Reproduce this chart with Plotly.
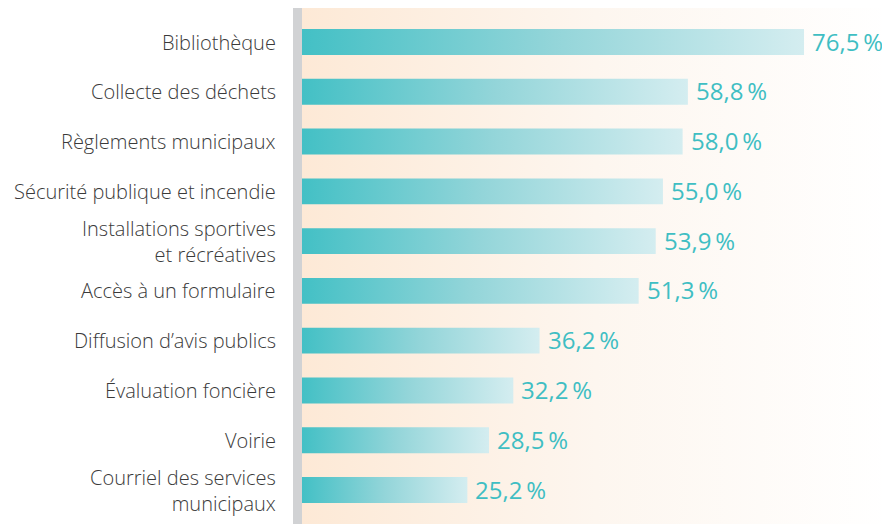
import plotly.graph_objects as go

categories = [
    "Bibliothèque",
    "Collecte des déchets",
    "Règlements municipaux",
    "Sécurité publique et incendie",
    "Installations sportives<br>et récréatives",
    "Accès à un formulaire",
    "Diffusion d’avis publics",
    "Évaluation foncière",
    "Voirie",
    "Courriel des services<br>municipaux",
]
values = [76.5, 58.8, 58.0, 55.0, 53.9, 51.3, 36.2, 32.2, 28.5, 25.2]
value_labels = [f"{v:.1f}".replace(".", ",") + "\u2009%" for v in values]

X_MAX = 89.6
Y_LO, Y_HI = -0.683, 9.683
HALF = 0.26
LABEL_FONT = dict(family="Open Sans", size=20, color="#3A3A3A", weight=300)

fig = go.Figure()

# background gradient panel
fig.add_trace(go.Scatter(
    x=[0, X_MAX, X_MAX, 0, 0], y=[Y_LO, Y_LO, Y_HI, Y_HI, Y_LO],
    mode="lines", line=dict(width=0), fill="toself",
    fillgradient=dict(type="horizontal",
                      colorscale=[[0, "#FDE9D6"], [0.5, "#FDF6EF"], [1, "#FFFFFF"]]),
    hoverinfo="skip", showlegend=False,
))

# gradient bars
for i, v in enumerate(values):
    fig.add_trace(go.Scatter(
        x=[0, v, v, 0, 0], y=[i - HALF, i - HALF, i + HALF, i + HALF, i - HALF],
        mode="lines", line=dict(width=0), fill="toself",
        fillgradient=dict(type="horizontal",
                          colorscale=[[0, "#43C0C5"], [0.5, "#93D5D9"], [1, "#D4EDF0"]]),
        hoverinfo="skip", showlegend=False,
    ))

# value labels
for i, (v, t) in enumerate(zip(values, value_labels)):
    fig.add_annotation(
        x=v, y=i, text=t, showarrow=False, xanchor="left", yanchor="middle",
        xshift=6, yshift=1,
        font=dict(family="Open Sans", size=24, color="#3FBEC3"),
    )

# category labels
for i, cat in enumerate(categories):
    fig.add_annotation(
        x=0, xref="paper", y=i, yref="y", text=cat, showarrow=False,
        xanchor="right", yanchor="middle", align="right", xshift=-24,
        font=LABEL_FONT,
    )

# gray strip at left of plot area
fig.add_shape(type="rect", xref="paper", yref="paper",
              x0=-9 / 588, x1=0, y0=0, y1=1,
              fillcolor="#D1D2D4", line=dict(width=0), layer="above")

fig.update_layout(
    width=882, height=516,
    margin=dict(l=294, r=0, t=0, b=0),
    paper_bgcolor="white", plot_bgcolor="white",
    xaxis=dict(range=[0, X_MAX], visible=False, fixedrange=True),
    yaxis=dict(range=[Y_HI, Y_LO], showticklabels=False, showgrid=False,
               zeroline=False, showline=False, fixedrange=True),
)

fig.write_html("out.html")
